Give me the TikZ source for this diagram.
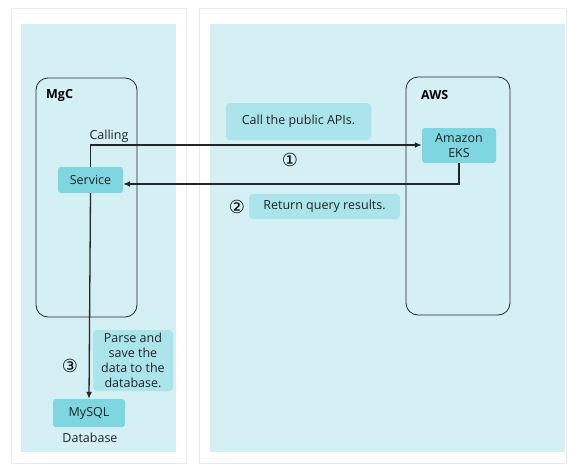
\documentclass[tikz,border=0pt]{standalone}
\usepackage{fontspec}
\setmainfont{Open Sans}
\newfontfamily\symfont{DejaVu Sans}
\usetikzlibrary{arrows.meta,shadows}
\definecolor{panelbg}{HTML}{D4F0F4}
\definecolor{nodefill}{HTML}{7ED6E1}
\definecolor{notefill}{HTML}{ABE4EB}
\definecolor{txt}{HTML}{222222}
\tikzset{
  panel/.style={fill=white, draw=black!8, line width=0.8pt},
  zone/.style={fill=panelbg, draw=none},
  group/.style={draw=black!85, line width=0.8pt, rounded corners=12pt},
  svc/.style={fill=nodefill, rounded corners=3pt, draw=none, text=txt, font=\fontsize{12.5}{14.5}\selectfont, align=center, inner sep=0pt},
  note/.style={fill=notefill, rounded corners=4pt, draw=none, text=txt, font=\fontsize{12.5}{15}\selectfont, align=center, inner sep=0pt},
  lbl/.style={text=txt, font=\fontsize{12.5}{14}\selectfont, inner sep=0pt},
  glbl/.style={text=black, font=\bfseries\fontsize{12.5}{14}\selectfont, inner sep=0pt, anchor=west},
  num/.style={text=black, font=\symfont\fontsize{18}{18}\selectfont, inner sep=0pt},
  flow/.style={draw=black!85, line width=1.3pt, -{Latex[length=7pt,width=6pt]}}
}
\begin{document}
\begin{tikzpicture}[x=1pt,y=-1pt]
\useasboundingbox (0,0) rectangle (575,474);
% panels
\path[panel] (11,8) rectangle (186,463);
\path[panel] (199,8) rectangle (566,463);
\path[zone] (21,24) rectangle (176,452);
\path[zone] (210,24) rectangle (565,452);
% groups
\draw[group] (36,78) rectangle (137,317);
\node[glbl] (mgc) at (46,95) {MgC};
\draw[group] (406,77) rectangle (510,315);
\node[glbl] (aws) at (421,95) {AWS};
% nodes
\node[svc, minimum width=65pt, minimum height=26pt] (service) at (90.5,180) {Service};
\node[svc, minimum width=74pt, minimum height=35pt] (eks) at (459,145.5) {Amazon\\EKS};
\node[svc, minimum width=72pt, minimum height=28pt] (mysql) at (89,413) {MySQL};
\node[lbl] (db) at (90,438) {Database};
\node[lbl] (calling) at (109,136) {Calling};
\node[note, minimum width=145pt, minimum height=37pt] (callapi) at (298.5,121.5) {Call the public APIs.};
\node[note, minimum width=151pt, minimum height=25pt] (ret) at (324.5,206.5) {Return query results.};
\node[note, minimum width=80pt, minimum height=61pt] (parse) at (133,360.5) {Parse and\\save the\\data to the\\database.};
\node[num] (n1) at (290,160) {①};
\node[num] (n2) at (237,207) {②};
\node[num] (n3) at (70,366) {③};
% connectors
\coordinate (c1) at (service.north |- 0,145);
\draw[flow] (service.north) -- (c1) -- (eks.west |- c1);
\coordinate (c2) at (eks.south |- 0,184);
\draw[flow] (eks.south) -- (c2) -- (service.east |- c2);
\draw[flow] (service.south) -- (mysql.north);
\end{tikzpicture}
\end{document}
